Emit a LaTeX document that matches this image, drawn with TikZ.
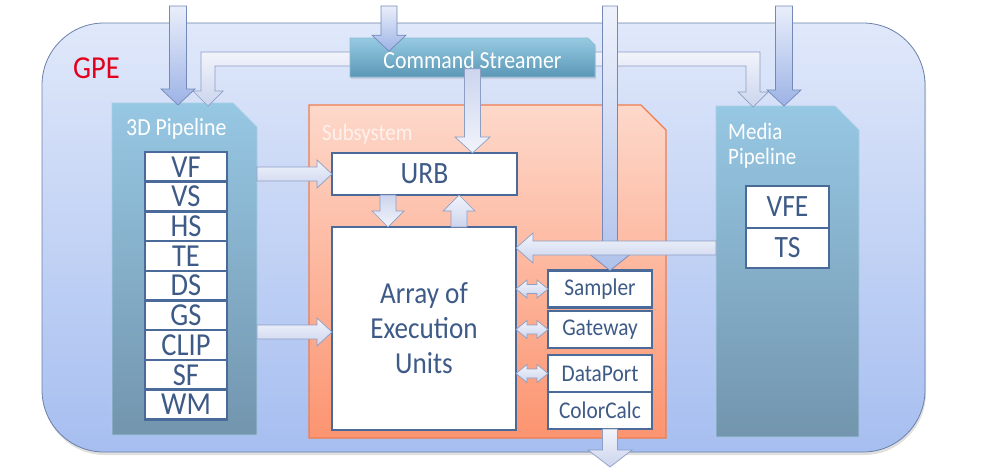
\documentclass[tikz,border=0pt]{standalone}
\usepackage{fontspec}
\setmainfont{Carlito}[FakeStretch=0.89]
\usetikzlibrary{calc,shadows}
\definecolor{gpeTop}{HTML}{E0E8FA}
\definecolor{gpeBot}{HTML}{A6BEF0}
\definecolor{gpeLine}{HTML}{6A80A8}
\definecolor{pipeTop}{HTML}{96C7E3}
\definecolor{pipeBot}{HTML}{7395AE}
\definecolor{pipeEdge}{HTML}{A9CFE6}
\definecolor{subTop}{HTML}{FDD8CA}
\definecolor{subBot}{HTML}{FC9470}
\definecolor{subLine}{HTML}{EF7D4E}
\definecolor{csTop}{HTML}{96CAE2}
\definecolor{csBot}{HTML}{5A97B6}
\definecolor{csEdge}{HTML}{8DBBD3}
\definecolor{boxLine}{HTML}{4A6A9A}
\definecolor{boxText}{HTML}{3E5A86}
\definecolor{arrTop}{HTML}{F2F4FB}
\definecolor{arrBot}{HTML}{CCD5EE}
\definecolor{arrLine}{HTML}{8C9EC4}
\definecolor{blueTop}{HTML}{E9EEFA}
\definecolor{blueBot}{HTML}{9DB3E6}
\definecolor{blueLine}{HTML}{7489B8}
\definecolor{gpeRed}{HTML}{E3001B}
\newcommand\myfs[2]{\fontsize{#1}{#2}\selectfont}
\def\ash{8pt}\def\ahd{17pt}\def\aln{16pt}
% vertical block arrow: start point, tip point
\newcommand\varrow[3][]{\path[blockarrow,#1] let \p1=#2, \p2=#3, \n1={ifthenelse(\y1>\y2,1,-1)} in
 (\x2-\ash,\y1) -- (\x2+\ash,\y1) -- (\x2+\ash,\y2+\aln*\n1) -- (\x2+\ahd,\y2+\aln*\n1) -- (\x2,\y2)
 -- (\x2-\ahd,\y2+\aln*\n1) -- (\x2-\ash,\y2+\aln*\n1) -- cycle;}
% horizontal block arrow
\newcommand\harrow[3][]{\path[blockarrow,#1] let \p1=#2, \p2=#3, \n1={ifthenelse(\x1>\x2,1,-1)} in
 (\x1,\y2+\ash) -- (\x2+\aln*\n1,\y2+\ash) -- (\x2+\aln*\n1,\y2+\ahd) -- (\x2,\y2)
 -- (\x2+\aln*\n1,\y2-\ahd) -- (\x2+\aln*\n1,\y2-\ash) -- (\x1,\y2-\ash) -- cycle;}
% double headed horizontal arrow
\newcommand\darrow[3][]{\path[blockarrow,#1] let \p1=#2, \p2=#3 in
 (\x1,\y1) -- (\x1+\aln,\y1+\ahd) -- (\x1+\aln,\y1+\ash) -- (\x2-\aln,\y1+\ash) -- (\x2-\aln,\y1+\ahd)
 -- (\x2,\y1) -- (\x2-\aln,\y1-\ahd) -- (\x2-\aln,\y1-\ash) -- (\x1+\aln,\y1-\ash) -- (\x1+\aln,\y1-\ahd) -- cycle;}
% elbow arrow: horizontal from start, then down to tip
\newcommand\elbow[3][]{\path[blockarrow,#1] let \p1=#2, \p2=#3, \n1={ifthenelse(\x1>\x2,1,-1)} in
 (\x1,\y1+\ash) -- (\x2-\ash*\n1,\y1+\ash) -- (\x2-\ash*\n1,\y2+\aln) -- (\x2-\ahd*\n1,\y2+\aln) -- (\x2,\y2)
 -- (\x2+\ahd*\n1,\y2+\aln) -- (\x2+\ash*\n1,\y2+\aln) -- (\x2+\ash*\n1,\y1-\ash) -- (\x1,\y1-\ash) -- cycle;}
\begin{document}
\begin{tikzpicture}[x=1pt,y=-1pt,
  blockarrow/.style={draw=arrLine, line width=0.7pt, top color=arrTop, bottom color=arrBot},
  bluearrow/.style={top color=blueTop, bottom color=blueBot, draw=blueLine},
  wbox/.style={draw=boxLine, line width=2.5pt, fill=white, inner sep=0pt, outer sep=0pt, text=boxText},
  stackbox/.style={wbox, minimum width=82pt, minimum height=29.7pt, font=\myfs{32}{32}},
  unitbox/.style={wbox, minimum width=104pt, minimum height=37pt, font=\myfs{24}{24}},
  pipeshade/.style={top color=pipeTop, bottom color=pipeBot, draw=pipeEdge, line width=0.8pt},
  ptitle/.style={text=white, font=\myfs{24}{25}, inner sep=0pt, anchor=base west}]
\useasboundingbox (0,0) rectangle (981,471);
% GPE
\node[draw=gpeLine, line width=0.8pt, top color=gpeTop, bottom color=gpeBot, rounded corners=62pt,
  minimum width=883pt, minimum height=429pt, inner sep=0pt,
  drop shadow={shadow xshift=1pt, shadow yshift=-3pt, opacity=0.25, fill=gray}] (gpe) at (483.5,237.5) {};
\node[text=gpeRed, font=\myfs{32}{32}, anchor=base west, inner sep=0pt] (gpelabel) at (73,78) {GPE};
% 3D pipeline
\path[pipeshade] (112,103) -- (233,103) -- (257,127) -- (257,435) -- (112,435) -- cycle;
\node[ptitle, font=\myfs{24.5}{25}] (p3dlabel) at (126,135) {3D Pipeline};
% Subsystem
\path[top color=subTop, bottom color=subBot, draw=subLine, line width=1.2pt]
  (309,105) -- (641,105) -- (666,130) -- (666,438) -- (309,438) -- cycle;
\node[ptitle, font=\myfs{23.5}{24}, text opacity=0.7] (sublabel) at (322,140) {Subsystem};
% Media pipeline
\path[pipeshade] (716,106) -- (835,106) -- (859,130) -- (859,437) -- (716,437) -- cycle;
\node[ptitle, font=\myfs{23.5}{24}] (mlabel1) at (728,139) {Media};
\node[ptitle, font=\myfs{23.5}{24}] (mlabel2) at (728,164) {Pipeline};
% named free ends
\coordinate (cscentre) at (472.5,59);
\coordinate (tipL) at (208,106);
\coordinate (tipR) at (753,107);
\coordinate (inL) at (178,6);
\coordinate (tipinL) at (178,105);
\coordinate (inC) at (389,6);
\coordinate (inR) at (784,6);
\coordinate (tipinR) at (784,106);
\coordinate (lvtop) at (610,6);
\coordinate (outB) at (610,467);
\coordinate (p3dA) at (257,174);
\coordinate (p3dB) at (257,332);
\coordinate (medA) at (716,248);
% Command streamer branches
\def\ash{7pt}\def\ahd{15pt}\def\aln{15pt}
\elbow{(cscentre)}{(tipL)}
\elbow{(cscentre)}{(tipR)}
% Command streamer
\path[top color=csTop, bottom color=csBot, draw=csEdge, line width=0.6pt,
  drop shadow={shadow xshift=1pt, shadow yshift=-2pt, opacity=0.2, fill=gray}]
  (350,38) -- (588,38) -- (595,45) -- (595,77) -- (350,77) -- cycle;
\node[text=white, font=\myfs{24.5}{24}, inner sep=0pt] (cs) at (472.5,60) {Command Streamer};
% white boxes
\foreach \t [count=\i from 0] in {VF,VS,HS,TE,DS,GS,CLIP,SF,WM}
  \node[stackbox] (s\t) at (186,{166.85+29.7*\i}) {\t};
\node[wbox, minimum width=185pt, minimum height=42pt, font=\myfs{31}{31}] (urb) at (424.5,174) {URB};
\node[wbox, minimum width=184pt, minimum height=203pt, align=center, font=\myfs{30.5}{35}] (eu) at (424,328.5) {Array of\\Execution\\Units};
\node[unitbox] (sampler) at (600,289) {Sampler};
\node[unitbox] (gateway) at (600,329.5) {Gateway};
\node[unitbox] (dataport) at (600,373.5) {DataPort};
\node[unitbox] (colorcalc) at (600,410.5) {ColorCalc};
\node[wbox, minimum width=83pt, minimum height=42pt, font=\myfs{31}{31}] (vfe) at (787.5,207) {VFE};
\node[wbox, minimum width=83pt, minimum height=40pt, font=\myfs{31}{31}] (ts) at (787.5,248) {TS};
% long vertical bar to sampler
\def\ash{7.5pt}\def\ahd{20pt}\def\aln{16pt}
\varrow[top color=blueTop!80!white, bottom color=blueBot!80!white, draw=blueLine]{(lvtop)}{(lvtop |- sampler.north)}
% media -> array
\def\ash{7pt}\def\ahd{15pt}\def\aln{17pt}
\harrow{(medA)}{(medA -| eu.east)}
% top arrows
\def\ash{8.5pt}\def\ahd{17pt}\def\aln{16pt}
\varrow[bluearrow]{(inL)}{(tipinL)}
\varrow[bluearrow]{(inR)}{(tipinR)}
\def\ash{8pt}\def\ahd{17pt}\def\aln{16pt}
\varrow[bluearrow]{(inC)}{(inC |- cs.north)}
% command streamer -> URB
\def\ash{8pt}\def\ahd{17.5pt}\def\aln{16pt}
\varrow[top color=arrBot, bottom color=arrTop]{(cs.south)}{(cs.south |- urb.north)}
% 3D pipeline -> URB and -> array
\def\ash{7pt}\def\ahd{14pt}\def\aln{15pt}
\harrow{(p3dA)}{(p3dA -| urb.west)}
\harrow{(p3dB)}{(p3dB -| eu.west)}
% URB <-> array
\def\ash{8pt}\def\ahd{16pt}\def\aln{16pt}
\varrow[top color=arrBot, bottom color=arrTop]{(388,195)}{(388,227)}
\varrow{(459,227)}{(459,195)}
% double arrows
\def\ash{4.5pt}\def\ahd{9pt}\def\aln{11pt}
\darrow{(eu.east |- sampler.west)}{(sampler.west)}
\darrow{(eu.east |- gateway.west)}{(gateway.west)}
\darrow{(eu.east |- dataport.west)}{(dataport.west)}
% bottom output
\def\ash{7.5pt}\def\ahd{22pt}\def\aln{17pt}
\varrow{(outB |- colorcalc.south)}{(outB)}
\end{tikzpicture}
\end{document}
